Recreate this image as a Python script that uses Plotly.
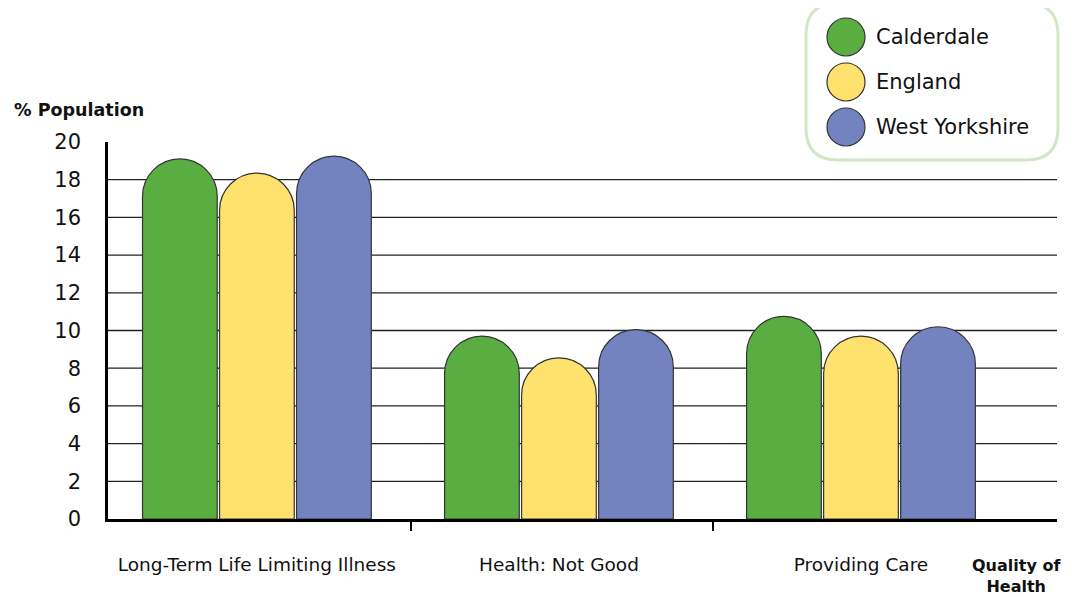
import plotly.graph_objects as go

categories = ["Long-Term Life Limiting Illness", "Health: Not Good", "Providing Care"]
series = ["Calderdale", "England", "West Yorkshire"]
colors = ["#5AAD41", "#FFE26E", "#7283C0"]
values = {
    "Calderdale": [19.1, 9.7, 10.75],
    "England": [18.35, 8.55, 9.7],
    "West Yorkshire": [19.25, 10.05, 10.2],
}
y_ticks = list(range(0, 21, 2))

FONT = "DejaVu Sans"

fig = go.Figure()
for name, col in zip(series, colors):
    fig.add_trace(
        go.Bar(
            x=list(range(len(categories))),
            y=values[name],
            name=name,
            marker=dict(color=col, line=dict(color="#333333", width=1.2), cornerradius="50%"),
            showlegend=False,
            hovertemplate=f"{name}<br>%{{y}}%<extra></extra>",
        )
    )

# grid lines (none at the top of the axis)
for v in y_ticks[1:-1]:
    fig.add_hline(y=v, line_color="#222222", line_width=1.3, layer="below")

# hand-made legend, anchored at the top-left corner of the plot area (pixels)
def rounded_box(x0, y0, x1, y1, r):
    return (
        f"M {x0 + r},{y1} L {x1 - r},{y1} Q {x1},{y1} {x1},{y1 - r} "
        f"L {x1},{y0 + r} Q {x1},{y0} {x1 - r},{y0} "
        f"L {x0 + r},{y0} Q {x0},{y0} {x0},{y0 + r} "
        f"L {x0},{y1 - r} Q {x0},{y1} {x0 + r},{y1} Z"
    )

fig.add_shape(
    type="path", xref="paper", yref="paper", xsizemode="pixel", ysizemode="pixel",
    xanchor=0, yanchor=1, path=rounded_box(698, -18, 950, 139, 32),
    line=dict(color="#D3E6C6", width=3), fillcolor="white",
)
for i, (name, col) in enumerate(zip(series, colors)):
    cy = 105 - 45 * i
    fig.add_shape(
        type="circle", xref="paper", yref="paper", xsizemode="pixel", ysizemode="pixel",
        xanchor=0, yanchor=1, x0=719, x1=757, y0=cy - 19, y1=cy + 19,
        fillcolor=col, line=dict(color="#333333", width=1.2),
    )
    fig.add_annotation(
        x=0, y=1, xref="paper", yref="paper", xshift=766, yshift=cy,
        text=name, showarrow=False, xanchor="left", yanchor="middle",
        font=dict(family=FONT, size=21, color="#111111"),
    )

fig.add_annotation(
    x=-0.101, y=1.085, xref="paper", yref="paper", text="<b>% Population</b>",
    showarrow=False, xanchor="left", yanchor="middle",
    font=dict(family=FONT, size=17.5, color="#111111"),
)
fig.add_annotation(
    x=0.957, y=-0.092, xref="paper", yref="paper", text="<b>Quality of<br>Health</b>",
    showarrow=False, xanchor="center", yanchor="top", align="center",
    font=dict(family=FONT, size=16, color="#111111"),
)

# the page body adds an 8px offset, so the figure is 8px smaller and margins shift
fig.update_layout(
    width=1066,
    height=589,
    margin=dict(l=100, r=17, t=134, b=78),
    plot_bgcolor="white",
    paper_bgcolor="white",
    barmode="group",
    bargap=0.235,
    bargroupgap=0.03,
    font=dict(family=FONT, color="#111111"),
)
fig.update_xaxes(
    range=[-0.493, 2.649],
    tickvals=list(range(len(categories))),
    ticktext=categories,
    ticks="",
    ticklabelstandoff=27,
    tickfont=dict(size=18.5),
    showline=True,
    linecolor="black",
    linewidth=3,
    showgrid=False,
    zeroline=False,
    minor=dict(tickvals=[0.51, 1.51], ticks="outside", ticklen=9, tickwidth=2, tickcolor="black"),
)
fig.update_yaxes(
    range=[0, 20],
    tickvals=y_ticks,
    ticks="",
    ticklabelstandoff=20,
    tickfont=dict(size=21),
    showline=True,
    linecolor="black",
    linewidth=2.5,
    showgrid=False,
    zeroline=False,
)

fig.write_html("out.html")
